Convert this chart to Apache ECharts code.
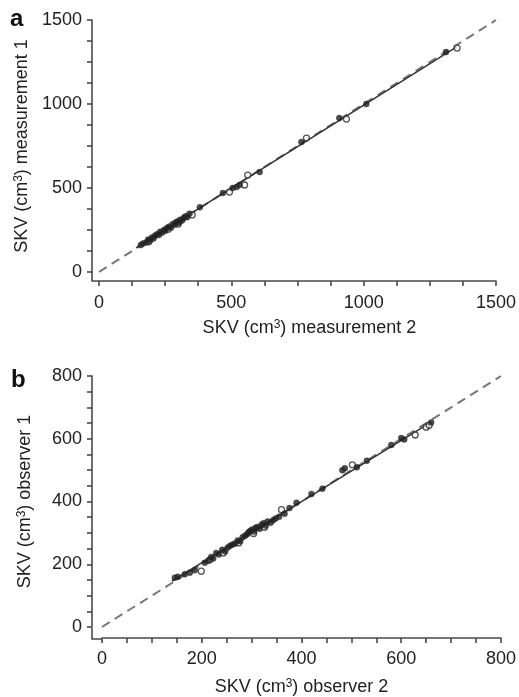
<!DOCTYPE html>
<html>
<head>
<meta charset="utf-8">
<script src="https://cdn.jsdelivr.net/npm/echarts@6/dist/echarts.min.js"></script>
<style>
  html, body { margin: 0; padding: 0; background: #fff; }
  #chart { width: 519px; height: 697px; }
</style>
</head>
<body>
<div id="chart"></div>
<script>
// panel a: SKV measurement 2 (x) vs measurement 1 (y), cm3
var filledA = [
  [158,160],[166,170],[178,176],[186,193],[192,186],[200,206],[206,199],[212,216],
  [219,224],[226,220],[231,239],[238,234],[246,251],[251,245],[258,263],[266,271],
  [272,264],[279,286],[286,281],[291,296],[297,301],[302,292],[307,311],[314,306],
  [320,322],[327,332],[333,326],[342,347],[381,385],[468,470],[505,500],[520,506],
  [531,518],[607,595],[765,774],[908,916],[1010,1000],[1311,1309]
];
var openA = [
  [188,180],[262,255],[299,285],[352,340],[493,476],[550,518],[562,577],[784,797],
  [935,910],[1353,1333]
];
var identityA = [[0,0],[1500,1500]];
var fitA = [[140,143],[1350,1338]];

// panel b: SKV observer 2 (x) vs observer 1 (y), cm3
var filledB = [
  [146,157],[152,160],[166,168],[176,173],[186,181],[206,205],[213,211],[219,223],
  [223,218],[229,236],[234,231],[241,246],[247,241],[252,253],[257,259],[262,263],
  [267,266],[272,276],[277,273],[282,286],[287,291],[291,296],[294,302],[297,306],
  [301,311],[305,304],[308,316],[312,319],[316,313],[320,326],[324,331],[328,323],
  [332,336],[338,332],[343,340],[348,346],[355,351],[366,361],[376,379],[390,396],
  [420,424],[442,441],[482,500],[487,506],[511,509],[531,530],[580,580],[600,602],
  [606,598],[660,652]
];
var openB = [
  [199,178],[216,214],[243,236],[274,268],[304,298],[326,318],[360,374],[502,517],
  [628,612],[650,637],[656,643]
];
var identityB = [[0,0],[800,800]];
var fitB = [[140,146],[660,653]];

var gridA = { left: 99, top: 20, width: 398, height: 252 };
var gridB = { left: 102, top: 376, width: 400, height: 252 };

var FONT = 'Liberation Sans, Arial, Helvetica, sans-serif';
var FS = 18;
var axisColor = '#4a4a4a';
var textColor = '#222';

function nameRich(before, after) {
  return '{t|' + before + '}{s|3}{t|' + after + '}';
}
var richStyle = {
  t: { fontSize: FS, color: textColor, fontFamily: FONT },
  s: { fontSize: 12, color: textColor, fontFamily: FONT, verticalAlign: 'top' }
};

function makeAxis(gridIndex, max, interval, offset, name, nameGap, labelMargin, namePad) {
  return {
    type: 'value',
    gridIndex: gridIndex,
    min: 0,
    max: max,
    interval: interval,
    offset: offset,
    name: name,
    nameLocation: 'middle',
    nameGap: nameGap,
    nameTextStyle: { rich: richStyle, padding: namePad || 0 },
    axisLine: { show: true, onZero: false, lineStyle: { color: axisColor, width: 1.6 } },
    axisTick: { show: true, length: 5, lineStyle: { color: axisColor, width: 1.6 } },
    minorTick: { show: true, splitNumber: 4, length: 5, lineStyle: { color: axisColor, width: 1.6 } },
    splitLine: { show: false },
    minorSplitLine: { show: false },
    axisLabel: {
      fontSize: FS, color: textColor, fontFamily: FONT, margin: labelMargin,
      formatter: function (v) { return String(v); }
    }
  };
}

function lineSeries(x, y, data, style) {
  return {
    type: 'line', xAxisIndex: x, yAxisIndex: y, data: data,
    symbol: 'none', silent: true, lineStyle: style, z: 2
  };
}
function dotSeries(x, y, data, open) {
  return {
    type: 'scatter', xAxisIndex: x, yAxisIndex: y, data: data,
    symbol: 'circle', symbolSize: 6, z: 3,
    itemStyle: open
      ? { color: 'rgba(255,255,255,0.7)', borderColor: '#2a2a2a', borderWidth: 1.3 }
      : { color: '#222', borderColor: '#222', borderWidth: 0.5 }
  };
}

var dashStyle = { color: '#777', width: 2, type: [9, 6] };
var fitStyle = { color: '#333', width: 1.5 };

// little corner where the offset axes meet
function corner(g, xOff, yOff) {
  var cx = g.left - yOff, cy = g.top + g.height + xOff;
  return {
    type: 'polyline', silent: true,
    shape: { points: [[cx, g.top + g.height], [cx, cy], [g.left, cy]] },
    style: { stroke: axisColor, lineWidth: 1.6, fill: null }
  };
}

var option = {
  backgroundColor: '#fff',
  animation: false,
  grid: [
    { left: gridA.left, top: gridA.top, width: gridA.width, height: gridA.height },
    { left: gridB.left, top: gridB.top, width: gridB.width, height: gridB.height }
  ],
  xAxis: [
    makeAxis(0, 1500, 500, 9, nameRich('SKV (cm', ') measurement 2'), 38, 13, [0, 0, 0, 24]),
    makeAxis(1, 800, 200, 11, nameRich('SKV (cm', ') observer 2'), 40, 12)
  ],
  yAxis: [
    makeAxis(0, 1500, 500, 7, nameRich('SKV (cm', ') measurement 1'), 58, 10),
    makeAxis(1, 800, 200, 10, nameRich('SKV (cm', ') observer 1'), 58, 10)
  ],
  graphic: [
    corner(gridA, 9, 7),
    corner(gridB, 11, 10),
    { type: 'text', silent: true,
      style: { text: 'a', x: 10, y: 19, font: 'bold 24px ' + FONT, fill: '#111', textVerticalAlign: 'middle' } },
    { type: 'text', silent: true,
      style: { text: 'b', x: 11, y: 380, font: 'bold 24px ' + FONT, fill: '#111', textVerticalAlign: 'middle' } }
  ],
  series: [
    lineSeries(0, 0, identityA, dashStyle),
    lineSeries(0, 0, fitA, fitStyle),
    dotSeries(0, 0, openA, true),
    dotSeries(0, 0, filledA, false),
    lineSeries(1, 1, identityB, dashStyle),
    lineSeries(1, 1, fitB, fitStyle),
    dotSeries(1, 1, openB, true),
    dotSeries(1, 1, filledB, false)
  ]
};

var myChart = echarts.init(document.getElementById('chart'));
myChart.setOption(option);
</script>
</body>
</html>
